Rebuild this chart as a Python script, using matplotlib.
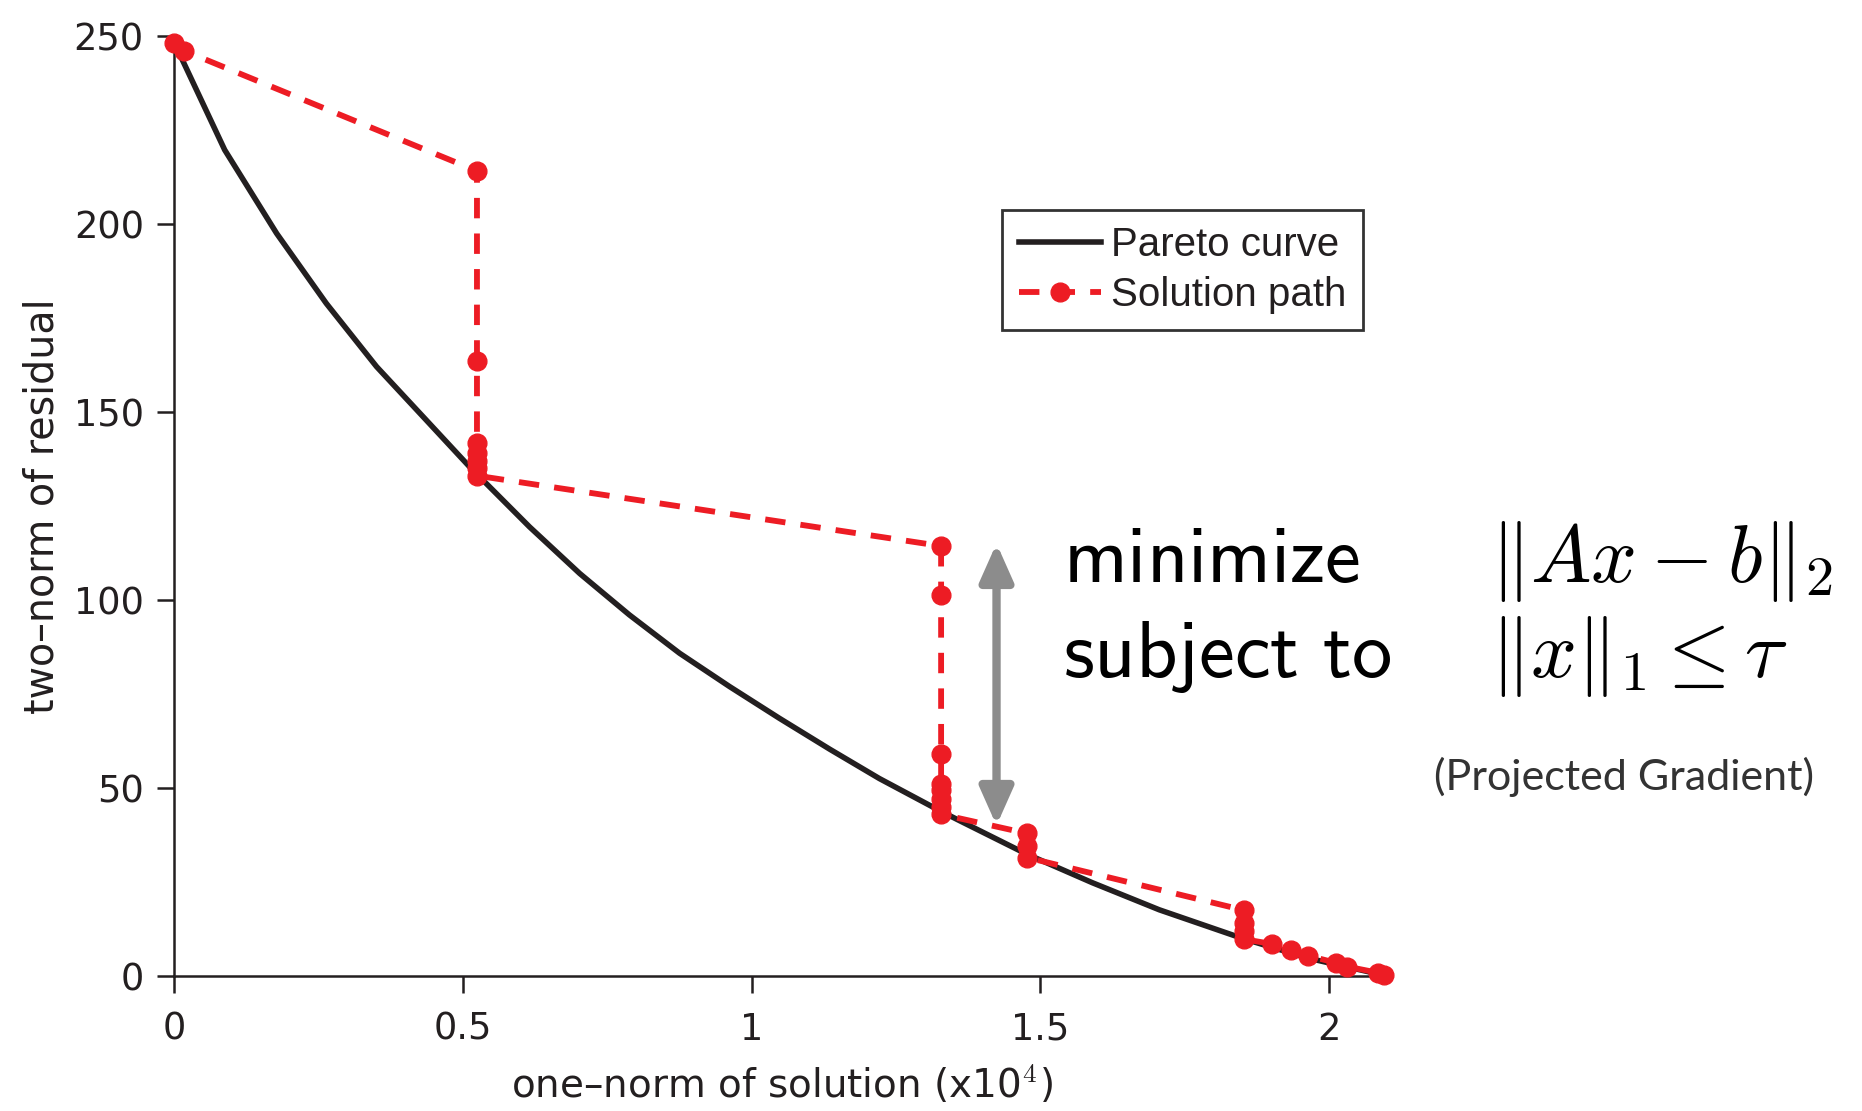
import numpy as np
import matplotlib.pyplot as plt

plt.rcParams['mathtext.fontset'] = 'cm'
plt.rcParams['font.family'] = ['DejaVu Sans']

# Curva de Pareto (x en unidades de 10^4)
pareto_x = [0, 0.087, 0.177, 0.263, 0.350, 0.436, 0.511, 0.615, 0.702,
            0.788, 0.875, 0.962, 1.048, 1.135, 1.221, 1.325, 1.360, 1.475, 1.590,
            1.706, 1.850, 1.965, 2.081, 2.095]
pareto_y = [248, 219.6, 197.4, 178.8, 162, 147.8, 135.4, 119.4, 107,
            96, 85.8, 76.9, 68.5, 60.3, 52.5, 44, 41.3, 32.5, 24.8,
            17.6, 10.0, 4.7, 0.7, 0.3]

# Camino de la solucion (gradiente proyectado)
path_x = [0, 0.016,
          0.524, 0.524, 0.524, 0.524, 0.524, 0.524, 0.524,
          1.328, 1.328, 1.328, 1.328, 1.328, 1.328, 1.328, 1.328,
          1.477, 1.477, 1.477,
          1.852, 1.852, 1.852, 1.852,
          1.902, 1.934, 1.964, 2.012, 2.031, 2.084, 2.095]
path_y = [248, 246,
          214, 163.5, 141.7, 139, 137, 135, 133,
          114.3, 101.3, 59, 51, 49.5, 47, 45, 43,
          37.9, 34.5, 31.5,
          17.5, 14, 12, 9.8,
          8.5, 6.9, 5.4, 3.5, 2.5, 0.9, 0.3]

x_ticks = [0, 0.5, 1, 1.5, 2]
x_tick_labels = ['0', '0.5', '1', '1.5', '2']
y_ticks = [0, 50, 100, 150, 200, 250]

# flecha gris entre el camino y la curva
arrow_x = 1.424
arrow_top = 115
arrow_bottom = 40

red = '#ed1c24'
ink = '#231f20'

fig = plt.figure(figsize=(18.62, 11.11), dpi=100)
ax = fig.add_axes([0.0937, 0.1215, 0.652, 0.8465])

ax.plot(pareto_x, pareto_y, color=ink, lw=4, label='Pareto curve', zorder=2)
ax.plot(path_x, path_y, color=red, lw=4.2, dashes=(3.5, 2.6), marker='o', ms=13.5,
        label='Solution path', zorder=3, clip_on=False)

ax.annotate('', xy=(arrow_x, arrow_bottom), xytext=(arrow_x, arrow_top),
            arrowprops=dict(arrowstyle='<|-|>,head_length=0.45,head_width=0.2',
                            color='#8c8c8c', lw=6, mutation_scale=50,
                            shrinkA=0, shrinkB=0))

ax.set_xlim(0, 2.103)
ax.set_ylim(0, 250)
ax.set_xticks(x_ticks)
ax.set_xticklabels(x_tick_labels)
ax.set_yticks(y_ticks)
ax.spines['top'].set_visible(False)
ax.spines['right'].set_visible(False)
for s in ['left', 'bottom']:
    ax.spines[s].set_linewidth(1.8)
    ax.spines[s].set_color(ink)
ax.tick_params(direction='out', length=12, width=1.8, color=ink,
               labelsize=26.5, labelcolor=ink)
ax.tick_params(axis='x', pad=13)
ax.tick_params(axis='y', pad=10)
ax.set_xlabel('one\u2013norm of solution (x10$^4$)', fontsize=28, color=ink, labelpad=11)
ax.set_ylabel('two\u2013norm of residual', fontsize=28.5, color=ink, labelpad=8)

leg = ax.legend(loc='upper left', bbox_to_anchor=(0.682, 0.815), borderaxespad=0,
                prop={'family': 'Liberation Sans', 'size': 29},
                frameon=True, fancybox=False, handlelength=2.05, handletextpad=0.25,
                borderpad=0.4, labelspacing=0.3)
leg.get_frame().set_edgecolor('black')
leg.get_frame().set_linewidth(2)
for t in leg.get_texts():
    t.set_color(ink)

# problema de optimizacion
fig.text(0.571, 0.476, r'$\mathsf{minimize}$', fontsize=58)
fig.text(0.571, 0.391, r'$\mathsf{subject\ to}$', fontsize=58)
fig.text(0.800, 0.476, r'$\|Ax-b\|_2$', fontsize=58)
fig.text(0.800, 0.391, r'$\|x\|_1\leq\tau$', fontsize=58)
fig.text(0.770, 0.289, '(Projected Gradient)', fontsize=31, family='Lato', color='#333333')

fig.savefig('out.png', dpi=100)
